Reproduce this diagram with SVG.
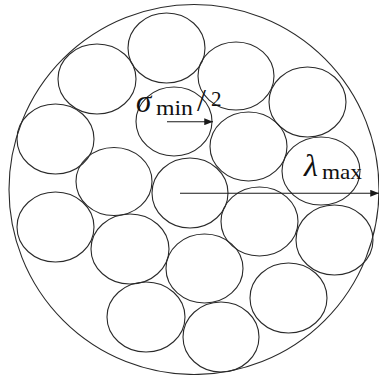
<svg xmlns="http://www.w3.org/2000/svg" width="379" height="375" viewBox="0 0 379 375">
<style>
.c{fill:none;stroke:#2a2a2a;stroke-width:1.1}
.a{fill:none;stroke:#1a1a1a;stroke-width:1.1}
.t{fill:#111}
</style>
<defs>
<marker id="ah" viewBox="0 0 10 8" refX="10" refY="4" markerWidth="9" markerHeight="7" markerUnits="userSpaceOnUse" orient="auto">
<path d="M0,0 L10,4 L0,8 Z" fill="#1a1a1a"/>
</marker>
</defs>
<rect width="379" height="375" fill="#fff"/>
<g id="outer"><circle class="c" cx="194" cy="189.5" r="185"/></g>
<g id="particles">
<ellipse id="p1" class="c" cx="166.5" cy="48" rx="38.5" ry="35"/>
<ellipse id="p2" class="c" cx="97" cy="79" rx="39" ry="35"/>
<ellipse id="p3" class="c" cx="236" cy="76" rx="38" ry="34"/>
<ellipse id="p4" class="c" cx="307.5" cy="102" rx="38.5" ry="35"/>
<ellipse id="p5" class="c" cx="55.5" cy="139" rx="38.5" ry="35"/>
<ellipse id="p6" class="c" cx="174" cy="121.5" rx="38" ry="34.5"/>
<ellipse id="p7" class="c" cx="248.5" cy="146.5" rx="38.5" ry="34.5"/>
<ellipse id="p8" class="c" cx="114" cy="181.5" rx="38" ry="34"/>
<ellipse id="p9" class="c" cx="190" cy="193" rx="38" ry="35"/>
<ellipse id="p10" class="c" cx="321" cy="171" rx="39" ry="34"/>
<ellipse id="p11" class="c" cx="55.5" cy="227" rx="38.5" ry="35"/>
<ellipse id="p12" class="c" cx="130" cy="249" rx="39" ry="35"/>
<ellipse id="p13" class="c" cx="259.5" cy="221.5" rx="38.5" ry="34.5"/>
<ellipse id="p14" class="c" cx="334.5" cy="240" rx="38.5" ry="35"/>
<ellipse id="p15" class="c" cx="204.5" cy="268.5" rx="38.5" ry="34.5"/>
<ellipse id="p16" class="c" cx="288.5" cy="298" rx="38.5" ry="35"/>
<ellipse id="p17" class="c" cx="146" cy="317" rx="39" ry="35"/>
<ellipse id="p18" class="c" cx="221" cy="337" rx="38" ry="35"/>
</g>
<g id="connectors">
<line class="a" x1="167" y1="121.7" x2="213" y2="121.7" marker-end="url(#ah)"/>
<line class="a" x1="180" y1="193.3" x2="379" y2="193.3" marker-end="url(#ah)"/>
</g>
<g id="labels" font-family="'Liberation Serif', 'DejaVu Serif', serif">
<text class="t" x="136" y="112" font-size="31" font-style="italic">σ</text>
<text class="t" x="156" y="115" font-size="22" textLength="37" lengthAdjust="spacingAndGlyphs">min</text>
<text class="t" x="197" y="111" font-size="32">/</text>
<text class="t" x="211" y="106" font-size="21">2</text>
<text class="t" x="304" y="176" font-size="32" font-style="italic">λ</text>
<text class="t" x="322" y="179" font-size="22" textLength="40" lengthAdjust="spacingAndGlyphs">max</text>
</g>
</svg>
